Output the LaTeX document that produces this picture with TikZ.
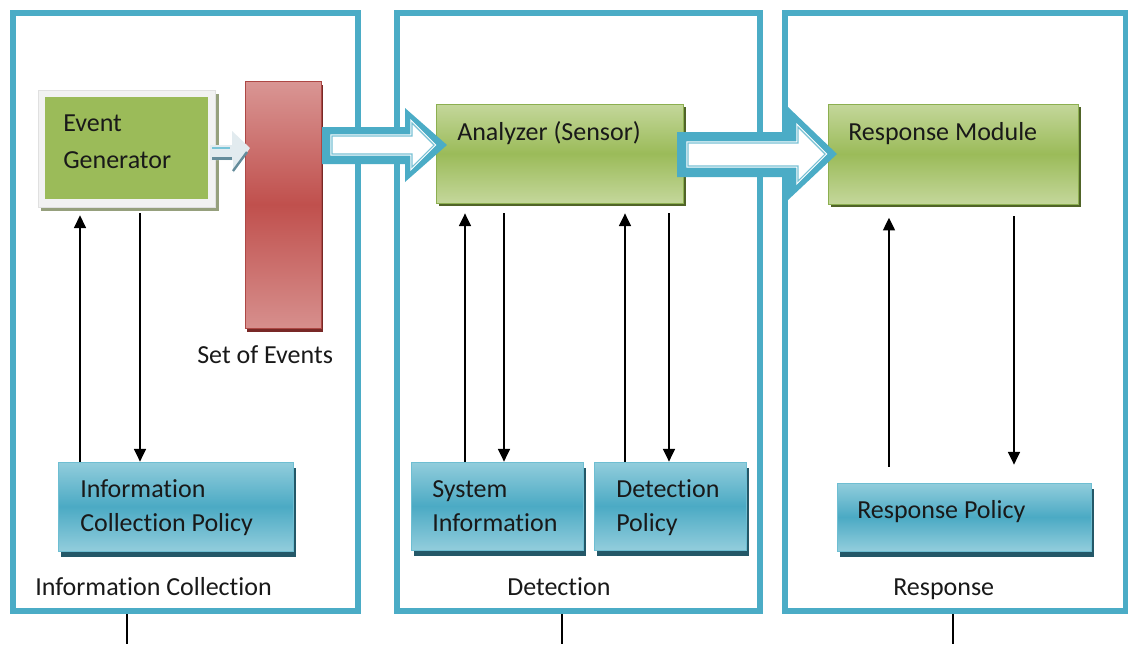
\documentclass[tikz,border=0pt]{standalone}
\usepackage{fontspec}
\setmainfont{Carlito}[Ligatures=NoCommon]
\usetikzlibrary{fit,arrows.meta,shadows,calc}

\definecolor{frameblue}{RGB}{75,172,198}
\definecolor{polLight}{RGB}{146,205,220}
\definecolor{polMid}{RGB}{75,170,196}
\definecolor{polEdge}{RGB}{110,190,210}
\definecolor{polShadow}{RGB}{36,88,104}
\definecolor{grLight}{RGB}{196,215,155}
\definecolor{grMid}{RGB}{155,187,89}
\definecolor{grEdge}{RGB}{140,175,80}
\definecolor{grShadow}{RGB}{80,100,40}
\definecolor{egShadow}{RGB}{150,160,125}
\definecolor{redLight}{RGB}{217,150,148}
\definecolor{redMid}{RGB}{192,80,77}
\definecolor{redShadow}{RGB}{120,40,38}
\definecolor{ink}{RGB}{25,25,25}
\definecolor{ghostFill}{RGB}{226,235,239}
\definecolor{ghostLine}{RGB}{120,196,216}
\definecolor{ghostDark}{RGB}{100,140,155}

\begin{document}
\begin{tikzpicture}[x=0.75pt,y=-0.75pt,
  txt/.style={font=\fontsize{19.5}{25.5}\selectfont, text=ink, inner sep=0pt, align=left, anchor=base west},
  stage/.style={draw=frameblue, line width=4.9pt, inner sep=0pt},
  greenbox/.style={inner sep=0pt, draw=grEdge, line width=0.6pt,
    top color=grLight, bottom color=grLight, middle color=grMid,
    drop shadow={shadow xshift=2.2pt, shadow yshift=-2.6pt, fill=grShadow, opacity=1}},
  policy/.style={inner sep=0pt, draw=polEdge, line width=0.6pt,
    top color=polLight, bottom color=polLight, middle color=polMid,
    drop shadow={shadow xshift=2pt, shadow yshift=-4.5pt, fill=polShadow, opacity=1}},
  flow/.style={line width=1pt, draw=black, -{Triangle[length=9.5pt,width=9pt]}},
  tail/.style={line width=1pt, draw=black},
  bigarrow/.style={fill=frameblue},
  arrowcore/.style={fill=white, draw=frameblue!75, line width=0.8pt},
  arrowgap/.style={draw=white, line width=2.6pt, line join=miter}
]
\useasboundingbox[fill=white] (0,0) rectangle (1128,644);

% leads leaving each stage downwards
\coordinate (b1) at (127,644);
\coordinate (b2) at (562,644);
\coordinate (b3) at (953,644);
\draw[tail] (b1 |- 0,611) -- (b1);
\draw[tail] (b2 |- 0,611) -- (b2);
\draw[tail] (b3 |- 0,611) -- (b3);

% the three stages
\node (f1) [stage, fit={(13,13) (358,611)}] {};
\node (f2) [stage, fit={(397,13) (760,611)}] {};
\node (f3) [stage, fit={(785,13) (1126,611)}] {};

% information collection
\fill[egShadow] (41,94) rectangle (219,211);
\node (eg) [fill=white!95!black, draw=white!88!black, line width=0.5pt, inner sep=0pt, fit={(38,90) (215,207)}] {};
\node (egin) [fill=grMid, inner sep=0pt, fit={(45,97) (208,199)}] {};
\node (egt) [txt, font=\fontsize{19.5}{27.75}\selectfont] at (63,168) {Event\\Generator};

\node (soe) [inner sep=0pt, draw=redMid!90!black, line width=0.6pt,
  top color=redLight, bottom color=redLight!90!redMid, middle color=redMid,
  drop shadow={shadow xshift=1.5pt, shadow yshift=-3pt, fill=redShadow, opacity=1},
  fit={(245,81) (321,328)}] {};
\node (soet) [txt] at (197,363) {Set of Events};

% faint hand-over arrow from the generator to the event set
\fill[ghostFill] (210,145) -- (232,145) -- (232,131) -- (250,148) -- (233,173) -- (233,160) -- (210,160) -- cycle;
\draw[ghostLine, line width=1.6pt] (212,148) -- (230,148);
\draw[ghostDark, line width=1.8pt] (212,158.5) -- (232,158.5);
\draw[ghostDark, line width=1.8pt] (233,171) -- (247,152);

\node (icp) [policy, fit={(58,462) (293,551)}] {};
\node (icpt) [txt] at (80,531) {Information\\Collection Policy};
\node (ict) [txt] at (35,595) {Information Collection};

\draw[flow, shorten >=6pt] (icp.north -| 80,0) -- (eg.south -| 80,0);
\draw[flow, shorten <=4.5pt] (eg.south -| 140,0) -- (icp.north -| 140,0);

% detection
\node (an) [greenbox, fit={(436,104) (683,203)}] {};
\node (ant) [txt] at (457,140) {Analyzer (Sensor)};
\node (si) [policy, fit={(411,462) (583,550)}] {};
\node (sit) [txt] at (432,531) {System\\Information};
\node (dp) [policy, fit={(594,462) (746,550)}] {};
\node (dpt) [txt] at (616,531) {Detection\\Policy};
\node (dt) [txt] at (507,595) {Detection};

\draw[flow, shorten >=7.5pt] (si.north -| 465,0) -- (an.south -| 465,0);
\draw[flow, shorten <=7.5pt] (an.south -| 504,0) -- (si.north -| 504,0);
\draw[flow, shorten >=7.5pt] (dp.north -| 625,0) -- (an.south -| 625,0);
\draw[flow, shorten <=7.5pt] (an.south -| 669,0) -- (dp.north -| 669,0);

% response
\node (rm) [greenbox, fit={(828,104) (1078,204)}] {};
\node (rmt) [txt] at (848,140) {Response Module};
\node (rp) [policy, fit={(837,483) (1091,551)}] {};
\node (rpt) [txt] at (857,518) {Response Policy};
\node (rt) [txt] at (893,595) {Response};

\draw[flow, shorten <=12pt, shorten >=10pt] (rp.north -| 889,0) -- (rm.south -| 889,0);
\draw[flow, shorten <=9pt, shorten >=13.5pt] (rm.south -| 1014,0) -- (rp.north -| 1014,0);

% block arrows between the stages
\fill[bigarrow] (322,127) -- (405,127) -- (405,108) -- (447,145) -- (405,182) -- (405,164) -- (322,164) -- cycle;
\draw[arrowgap] (332,136) -- (412,136) -- (412,123) -- (434,145) -- (412,167) -- (412,154) -- (332,154) -- cycle;
\filldraw[arrowcore] (332,136) -- (412,136) -- (412,123) -- (434,145) -- (412,167) -- (412,154) -- (332,154) -- cycle;

\fill[bigarrow] (677,132) -- (788,132) -- (788,107) -- (837,154) -- (788,200) -- (788,177) -- (677,177) -- cycle;
\draw[arrowgap] (688,143) -- (798,143) -- (798,127) -- (825,154) -- (798,181) -- (798,166) -- (688,166) -- cycle;
\filldraw[arrowcore] (688,143) -- (798,143) -- (798,127) -- (825,154) -- (798,181) -- (798,166) -- (688,166) -- cycle;
\end{tikzpicture}
\end{document}
